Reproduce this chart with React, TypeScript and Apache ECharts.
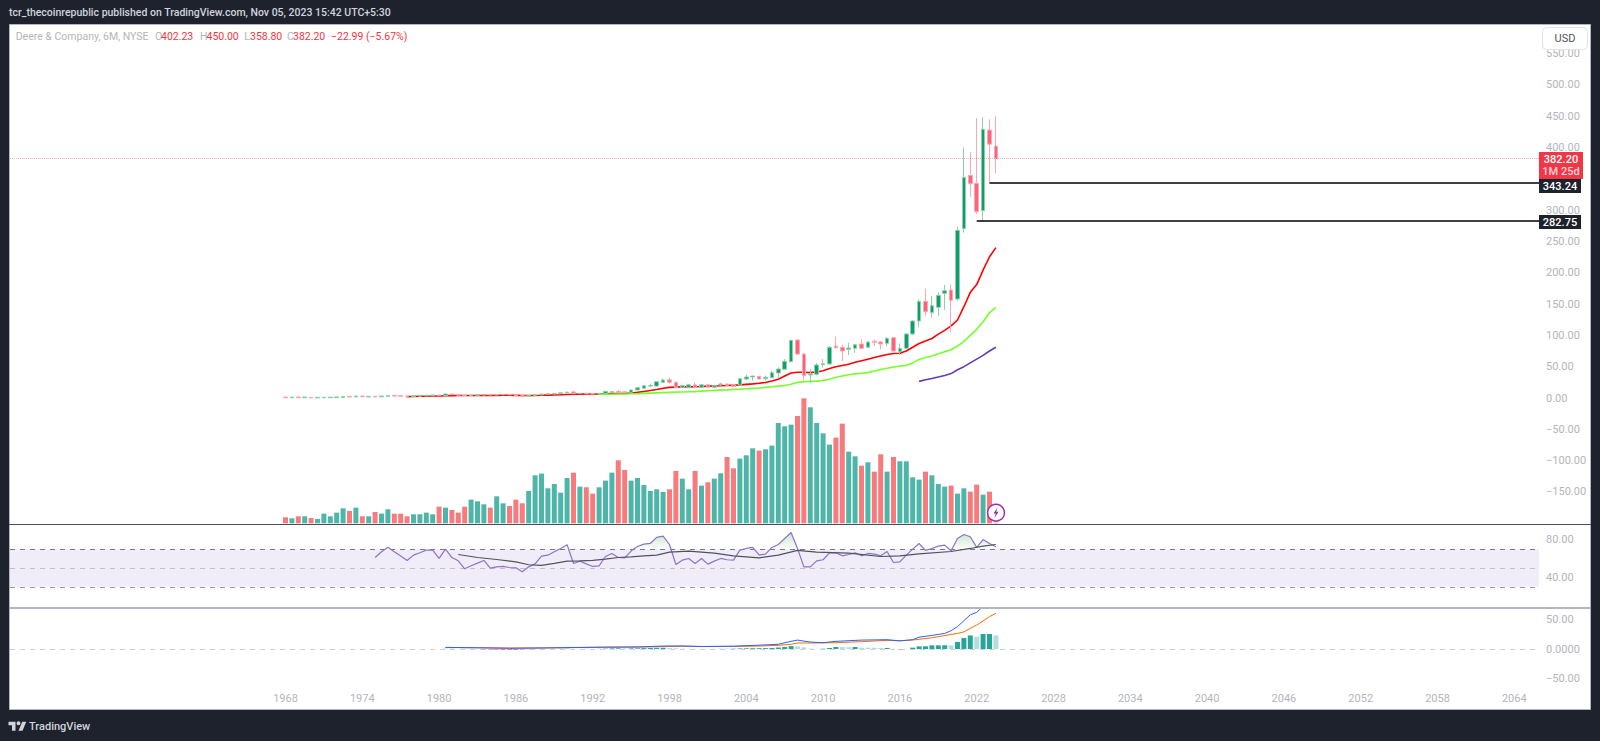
import React, { useEffect, useRef } from "react";
import * as echarts from "echarts";

const firstYear = 1968;
const barYears = 0.5;
const yearOf = (i: number) => firstYear + i * barYears;

// [open, close, low, high] for each six-month bar, 1968 H1 onwards
const candles: number[][] = [
  [1.6,0.4,0.2,1.7],[0.3,1.5,0.2,1.6],[1.7,0.5,0.4,1.8],[0.4,1.6,0.3,1.7],[1,0.1,0.05,1.1],[0.1,1,0.05,1.1],[0.3,1.3,0.2,1.4],[0.4,1.4,0.3,1.5],
  [0.5,1.7,0.4,1.8],[0.9,2.2,0.8,2.3],[2.8,1.7,1.5,3.4],[1.7,3,1.6,3.1],[3.1,2,1.9,3.2],[1.6,2.6,1.5,2.8],[2.7,1.7,1.6,2.9],[1.9,3.3,1.8,3.5],
  [2.7,4.1,2.6,4.3],[4.2,3.1,3,4.6],[3.6,2.7,2.5,3.8],[3.3,2.2,2,3.5],[2.1,3.4,2,3.6],[2.8,4,2.7,4.2],[3.3,4.4,3.2,4.6],[3.7,4.8,3.5,5],
  [4.8,3.9,3.7,5.2],[4,6.4,3.8,7],[6.4,5.4,5,7.2],[5.4,4.5,4.2,5.6],[4.6,4,3.8,4.7],[4,4.6,3.8,5],[4.4,5,4.1,5.2],[4.7,5.4,4.5,5.9],
  [5.3,5,4.8,6.2],[5,5.2,4.7,5.4],[5.2,5.5,5,5.7],[5.5,5.2,5,5.7],[5.2,3.6,3.4,5.3],[3.6,2.8,2.6,3.7],[2.8,3.8,2.6,3.9],[3.8,5.2,3.7,5.3],
  [5,6.3,4.9,6.6],[6,6.6,5.8,7],[6.5,7.3,6.3,7.6],[7.3,8.2,7.1,8.6],[8,9.2,7.8,10.5],[9.7,7,6.8,12],[7,7.6,6.8,8],[7.6,7.2,7,7.8],
  [7.2,6.8,6.6,7.4],[6.8,7.4,6.6,7.6],[7.4,10.6,7.2,11],[8.7,10.4,8.5,11],[10.6,9,8.8,13],[10,9,8.8,11],[9,12.8,8.9,13],[12.8,16.4,12.6,16.8],
  [15.5,19.7,15.2,20.2],[19,19.8,17,23],[19,26,18.5,26.5],[25,28.7,24.5,31],[29,25,23,33],[25,17,16,26],[17,20,16.5,21],[17,21,16.5,22],
  [21,17,15,25],[17,21,16,22.5],[21.2,17,16,22],[17,19.6,15.5,21],[21,22.3,19.5,24.5],[22.3,20.3,19,23.4],[21.2,18,17,22],[20.7,30.8,20,31.5],
  [30.3,33.5,28.7,37],[33.5,35.1,27.6,35.5],[34.6,30.3,29.8,35],[30.8,33,27.6,35.8],[32.4,40.4,32,43.6],[39.9,46.3,33.1,49],[45.8,58.6,44.7,62],[58,92,57,93],
  [92.6,70.2,68.6,93.6],[70.2,35.6,27.6,72],[36.7,38.3,23.6,46.2],[37.8,52.7,36,55.9],[53.2,54.7,48.4,62],[54.3,80.9,53.2,83],[83,80.3,78,97.9],[80.9,75,59.1,85.1],
  [77.7,79.8,68.6,88.3],[79.3,85,72.2,86.2],[86.2,79.3,78,93.6],[80.9,89.4,80.9,90.5],[90.5,88.9,83,93.6],[89.4,86.2,77.7,91],[87.2,95.2,83,97.4],[96.3,75,73.9,96.3],
  [73.9,79.3,68.6,87.2],[79.3,102.2,77.7,103.8],[102.2,122.9,101,124.5],[122.9,154.3,112.8,157.5],[154.3,137.8,130.9,174.5],[136.2,147.4,128.2,162.8],[144.7,163.9,131,169],[167,171.3,140.5,180.4],
  [172.4,155.9,105.8,181.4],[158,267.6,155.4,273.5],[270.3,352.2,263.9,400],[355.4,342,321,392.7],[342.7,297.4,294,447],[299,428.9,282.75,448],[427.8,405.19,343.24,444.8],[402.23,382.2,358.8,450],
];

const volumes: number[] = [
  18,15,21,21,16,13,29,21,32,45,37,47,21,21,34,29,42,29,29,21,27,27,32,27,50,47,40,32,50,71,66,57,47,81,60,52,71,60,97,144,
  149,105,118,92,136,152,110,108,89,108,128,152,189,160,128,136,115,97,102,94,102,157,134,102,157,113,123,134,150,199,165,194,204,225,218,222,233,301,291,296,
  322,375,348,301,270,236,257,299,215,201,173,183,155,207,155,199,186,186,138,131,155,144,118,110,113,89,105,95,116,86,95,2,
];

const emaRedStart = 19;
const emaRed: number[] = [
  2.2,2.5,2.7,2.9,3.1,3.3,3.6,3.8,3.9,3.9,3.9,4,4.1,4.1,4.2,4.3,4.3,4.2,4,4,4.1,4.3,4.6,4.9,5.2,5.7,6,
  6.2,6.3,6.4,6.5,6.8,7,7.2,7.4,8,9,10.5,12,13.5,15.5,17,17.5,17.7,17.8,18,18.3,19,19.2,19.5,20,20.5,21,21.8,22.5,23.5,24.8,27,30,35,40,41,41,40.5,41.5,43.5,
  47,50,52,54,57,59.5,62,64.5,67,69.5,71,71.5,75,81,87,91,95,102,108,115,124.5,145.7,168.7,181,204,225.5,240,
];
const emaLimeStart = 49;
const emaLime: number[] = [
  5.8,6,6.1,6.3,6.5,6.7,7,7.4,7.8,8.2,8.6,9,9.3,9.6,9.9,10.2,11,11.5,12,12.5,13,13.8,14.2,14.8,15.4,16,17,18,19,20,22,25,26,26.5,27,28,30,33,35,37,38.5,39.5,
  40.5,43,45.5,47.6,49.5,51,52,56,61.6,64.5,67,70.5,74,77,83,90,100,109.6,121.8,136,144.7,
];
const emaPurpleStart = 99;
const emaPurple: number[] = [26.5,29,31,33.5,36,39,45,50,56,62,68,75,81];

const levels: number[][] = [[110, 343.24], [108, 282.75]];
const lastPrice = 382.2;

const rsiStart = 14;
const rsi: number[] = [
  61.1,67.2,72.1,67.2,62.6,58,63.6,66.1,68.9,68.9,60.1,70,61.1,57.6,49.1,52.3,55.1,58,49.8,51.2,51.6,50.5,50.2,45.9,51.2,54.4,62.6,63.6,67.2,70.7,74.6,54.8,57.3,54.4,51.6,52.3,62.2,65.4,61.1,60.8,67.9,72.8,75.3,76,82.4,83.8,74.9,53.7,
  58.3,60.1,54.8,60.1,54.1,57.3,60.1,58.7,58.3,68.9,70.7,71.8,64,64.7,71.8,74.9,81.3,87.7,70.7,51.2,51.2,57.6,58.7,66.1,66.1,62.9,64.3,66.1,62.9,65.4,64.7,62.9,67.5,55.8,56.5,63.6,70,76,68.6,70.7,73.2,74.2,68.2,81.3,85.5,83.1,71.8,80.2,76,72.5,
];
const rsiMa: number[][] = [
  [27,64.3],[30,61.1],[33,59],[36,56.5],[38,53.4],[40,52.7],[42,54.8],[44,57.3],[46,57.6],[48,58],[50,59.4],[52,61.1],[54,61.8],[56,62.9],[58,63.6],[60,66.8],[63,67.9],
  [67,65.7],[70,62.9],[74,60.8],[77,63.6],[80,68.6],[83,66.8],[88,65.7],[93,62.2],[96,62.9],[99,65],[104,67.5],[107,70.7],[109,73.2],[111,74.9],
];

const macdHistStart = 25;
const macdHist: number[] = [
  0.3,0.3,0.2,0.2,0.1,-0.1,-0.4,-0.7,-1,-1.1,-1.2,-1.3,-1.2,-1,-0.7,-0.4,-0.2,0.1,0.3,0.5,0.3,0.2,0.2,0.1,0.3,0.7,1,1.2,1,1,1.2,1.5,1.7,1.9,2,1.7,1.3,
  0.5,0.3,0.2,0.1,-0.1,0.1,0.2,0.3,0.5,1,1.2,1.3,1.4,1.5,1.8,2.5,3.5,5,4.5,2.8,0.6,0.2,0.5,1.7,3.5,3.4,3,3.4,2.3,2.2,2.1,1.7,1.8,0.2,-0.6,-0.3,2.3,4.5,4.6,6.2,6.2,6.3,6.2,12,18.6,23,21,25.4,25.5,23,
];
const macdLine: number[][] = [
  [25,2.8],[30,2],[35,1.2],[40,1.6],[45,2.6],[50,3.2],[55,3.6],[59,5],[62,5.2],[65,4.2],[70,4.8],[74,6.5],[77,8],[79,13],[80,15.1],[82,11.8],[84,10.7],[86,13],[90,15.1],[94,15.8],[96,13.8],[98,15.8],[99,20],[101,23],[103,26.4],[104,31],[105,38],[106,48],[107,58],[108,62],[109,72.5],[110,80],[111,83.5],
];
const macdSignal: number[][] = [
  [25,2.6],[30,2.2],[35,1.7],[40,1.9],[45,2.4],[50,3],[55,3.2],[59,4],[62,4.7],[65,4.3],[70,4.3],[74,5],[77,6.2],[79,8],[80,10.2],[83,10.2],[86,10.7],[90,12.4],[94,14.6],[96,14],[98,15.2],[101,19],[104,24.7],[105,26.4],[106,29],[107,35],[108,40.7],[109,47.5],[110,54.8],[111,60.5],
];

const yearTicks = [1968,1974,1980,1986,1992,1998,2004,2010,2016,2022,2028,2034,2040,2046,2052,2058,2064];
const legendPieces: [string, number, string, number][] = [
  ["Deere & Company, 6M, NYSE", 15.7, "#b2b5be", 10.5],
  ["O", 155, "#b2b5be", 10.5], ["402.23", 161, "#f23645", 10.5],
  ["H", 200, "#b2b5be", 10.5], ["450.00", 206.5, "#f23645", 10.5],
  ["L", 244.3, "#b2b5be", 10.5], ["358.80", 250, "#f23645", 10.5],
  ["C", 287, "#b2b5be", 10.5], ["382.20", 293, "#f23645", 10.5],
  ["\u221222.99 (\u22125.67%)", 331, "#f23645", 10.5],
];

const FONT = "Roboto, sans-serif";
const X_MIN = 1946.477;
const X_MAX = 2065.93;
const pane = { left: 10, width: 1529 };

const fmt = (v: number) => (v < 0 ? "\u2212" : "") + Math.abs(v).toFixed(2);
const fromIndex = (arr: number[], start: number) => arr.map((v, k) => [yearOf(start + k), v]);
const fromPairs = (arr: number[][]) => arr.map(([i, v]) => [yearOf(i), v]);

const lineSeries = (name: string, data: number[][], color: string, width: number, axis: number, extra: any = {}) => ({
  type: "line", name, data, xAxisIndex: axis, yAxisIndex: axis === 0 ? 0 : axis + 1,
  showSymbol: false, symbol: "none", silent: true,
  lineStyle: { color, width }, itemStyle: { color }, z: 5, ...extra,
});

const histColor = (h: number, prev: number) =>
  h >= 0 ? (h >= prev ? "#26a69a" : "#b2dfdb") : (h < prev ? "#ff5252" : "#ffcdd2");

function buildOption() {
  const axisLabel = { color: "#b2b5be", fontFamily: FONT, fontSize: 11, margin: 7, showMinLabel: false, showMaxLabel: false };
  const hiddenParts = { axisLine: { show: false }, axisTick: { show: false }, splitLine: { show: false } };
  const xBase = { type: "value", min: X_MIN, max: X_MAX, ...hiddenParts };

  return {
    animation: false,
    backgroundColor: "#1e222d",
    grid: [
      { ...pane, top: 22.1, height: 501.2 },
      { ...pane, top: 502, height: 113.1 },
      { ...pane, top: 608, height: 100 },
    ],
    xAxis: [
      { ...xBase, gridIndex: 0, axisLabel: { show: false } },
      { ...xBase, gridIndex: 1, axisLabel: { show: false } },
      {
        ...xBase, gridIndex: 2,
        axisLabel: {
          inside: true, margin: 4, color: "#b2b5be", fontFamily: FONT, fontSize: 11,
          customValues: yearTicks, formatter: (v: number) => String(v), hideOverlap: false,
        },
      },
    ],
    yAxis: [
      // the 350.00 label sits behind the price tags in the reference, so it is left blank
      { type: "value", gridIndex: 0, position: "right", min: -200, max: 600, interval: 50, ...hiddenParts, axisLabel: { ...axisLabel, formatter: (v: number) => (v === 350 ? "" : fmt(v)) } },
      { type: "value", gridIndex: 0, position: "right", min: 0, max: 1503.6, show: false, ...hiddenParts },
      { type: "value", gridIndex: 1, position: "right", min: 0, max: 120, interval: 40, ...hiddenParts, axisLabel: { ...axisLabel, formatter: fmt } },
      { type: "value", gridIndex: 2, position: "right", min: -100, max: 69.5, interval: 50, ...hiddenParts, axisLabel: { ...axisLabel, formatter: (v: number) => (v === 0 ? "0.0000" : fmt(v)) } },
    ],
    series: [
      {
        type: "bar", name: "Volume", xAxisIndex: 0, yAxisIndex: 1, barWidth: 5, silent: true, z: 1,
        data: volumes.map((v, i) => ({
          value: [yearOf(i), v],
          itemStyle: {
            color: candles[i][1] >= candles[i][0] ? "#4db6a9" : "#f77a7d",
          },
        })),
      },
      lineSeries("EMA 20", fromIndex(emaRed, emaRedStart), "#ff0000", 1.6, 0, {
        z: 3,
        markLine: {
          silent: true, symbol: "none", animation: false, label: { show: false },
          data: [
            { yAxis: lastPrice, lineStyle: { color: "rgba(242,54,69,0.4)", type: "dotted", width: 1 } },
            ...levels.map(([i, p]) => [
              { coord: [yearOf(i), p], lineStyle: { color: "#000000", type: "solid", width: 1.6 } },
              { coord: [X_MAX, p] },
            ]),
          ],
        },
      }),
      lineSeries("EMA 50", fromIndex(emaLime, emaLimeStart), "#76ff2a", 1.6, 0, { z: 3 }),
      lineSeries("EMA 100", fromIndex(emaPurple, emaPurpleStart), "#673ab7", 1.6, 0, { z: 3 }),
      {
        type: "candlestick", name: "Deere & Company", xAxisIndex: 0, yAxisIndex: 0, barWidth: 4, silent: true, z: 4,
        data: candles.map(([o, c, l, h], i) => [yearOf(i), o, c, l, h]),
        itemStyle: { color: "#0e9c72", color0: "#fb6478", borderColor: "#8fd0a4", borderColor0: "#fba8b2", borderWidth: 1 },
      },
      lineSeries("RSI zone", fromIndex(rsi.map((v) => Math.max(v, 70)), rsiStart), "transparent", 0, 1, {
        lineStyle: { opacity: 0, width: 0 },
        z: 3,
        areaStyle: {
          origin: 70,
          color: new echarts.graphic.LinearGradient(0, 0, 0, 1, [
            { offset: 0, color: "rgba(76,175,80,0.45)" },
            { offset: 1, color: "rgba(76,175,80,0.02)" },
          ]),
        },
      }),
      lineSeries("RSI", fromIndex(rsi, rsiStart), "#8e72cc", 1.2, 1, {
        markArea: { silent: true, itemStyle: { color: "rgba(126,87,194,0.11)" }, data: [[{ yAxis: 70 }, { yAxis: 30 }]] },
        markLine: {
          silent: true, symbol: "none", animation: false, label: { show: false },
          data: [
            { yAxis: 70, lineStyle: { color: "#787b86", type: [5, 5], width: 1 } },
            { yAxis: 50, lineStyle: { color: "rgba(120,123,134,0.4)", type: [5, 5], width: 1 } },
            { yAxis: 30, lineStyle: { color: "#9598a1", type: [5, 5], width: 1 } },
          ],
        },
      }),
      lineSeries("RSI MA", fromPairs(rsiMa), "#50535e", 1.2, 1),
      {
        type: "bar", name: "MACD histogram", xAxisIndex: 2, yAxisIndex: 3, barWidth: 5, silent: true, z: 3,
        data: macdHist.map((h, k) => ({
          value: [yearOf(macdHistStart + k), h],
          itemStyle: { color: histColor(h, k ? macdHist[k - 1] : 0) },
        })),
        markLine: {
          silent: true, symbol: "none", animation: false, label: { show: false },
          data: [{ yAxis: 0, lineStyle: { color: "rgba(120,123,134,0.35)", type: [5, 5], width: 1 } }],
        },
      },
      lineSeries("Signal", fromPairs(macdSignal), "#ff6d00", 1, 2),
      lineSeries("MACD", fromPairs(macdLine), "#2962ff", 1, 2),
    ],
    graphic: {
      elements: [
        { type: "rect", z: -10, silent: true, shape: { x: 9.5, y: 24.5, width: 1581, height: 685 }, style: { fill: "#ffffff", stroke: "#b2b5be", lineWidth: 1 } },
        { type: "line", z: 8, silent: true, shape: { x1: 9, y1: 524.5, x2: 1591, y2: 524.5 }, style: { stroke: "#4a4e59", lineWidth: 1 } },
        { type: "line", z: 8, silent: true, shape: { x1: 9, y1: 608, x2: 1591, y2: 608 }, style: { stroke: "#b2b5be", lineWidth: 2 } },
        { type: "text", z: 20, silent: true, x: 9, y: 12.5, style: { text: "tcr_thecoinrepublic published on TradingView.com, Nov 05, 2023 15:42 UTC+5:30", fill: "#d1d4dc", font: `500 10.5px ${FONT}`, verticalAlign: "middle" } },
        ...legendPieces.map(([text, x, fill, size]) => ({
          type: "text", z: 20, silent: true, x, y: 36, style: { text, fill, font: `${size}px ${FONT}`, verticalAlign: "middle" },
        })),
        // USD box
        { type: "rect", z: 20, silent: true, shape: { x: 1542.5, y: 27.5, width: 45, height: 22, r: 4 }, style: { fill: "#ffffff", stroke: "#e0e3eb", lineWidth: 1 } },
        { type: "text", z: 21, silent: true, x: 1565, y: 38.5, style: { text: "USD", fill: "#50535e", font: `11px ${FONT}`, align: "center", verticalAlign: "middle" } },
        // last price tag
        { type: "rect", z: 20, silent: true, shape: { x: 1539, y: 152, width: 44, height: 27 }, style: { fill: "#f23645" } },
        { type: "text", z: 21, silent: true, x: 1561, y: 159.5, style: { text: "382.20", fill: "#ffffff", font: `500 11px ${FONT}`, align: "center", verticalAlign: "middle" } },
        { type: "text", z: 21, silent: true, x: 1561, y: 171.5, style: { text: "1M 25d", fill: "#ffd5d9", font: `500 11px ${FONT}`, align: "center", verticalAlign: "middle" } },
        // level tags
        { type: "rect", z: 20, silent: true, shape: { x: 1539, y: 179, width: 42, height: 14 }, style: { fill: "#1e222d" } },
        { type: "text", z: 21, silent: true, x: 1560, y: 186, style: { text: "343.24", fill: "#ffffff", font: `500 11px ${FONT}`, align: "center", verticalAlign: "middle" } },
        { type: "rect", z: 20, silent: true, shape: { x: 1539, y: 215, width: 42, height: 14 }, style: { fill: "#1e222d" } },
        { type: "text", z: 21, silent: true, x: 1560, y: 222, style: { text: "282.75", fill: "#ffffff", font: `500 11px ${FONT}`, align: "center", verticalAlign: "middle" } },
        // earnings-style icon
        { type: "circle", z: 20, silent: true, shape: { cx: 996, cy: 512.7, r: 8.4 }, style: { fill: "#ffffff", stroke: "#9c27b0", lineWidth: 1.4 } },
        { type: "polygon", z: 21, silent: true, shape: { points: [[997.5, 507.5], [993.5, 513.5], [995.8, 513.5], [994.5, 518], [998.5, 511.8], [996.2, 511.8]] }, style: { fill: "#9c27b0" } },
        // footer
        { type: "tvLogo", z: 20, silent: true, x: 8.5, y: 719.7, scaleX: 0.5, scaleY: 0.5, style: { fill: "#d1d4dc" } },
        { type: "text", z: 20, silent: true, x: 29, y: 726, style: { text: "TradingView", fill: "#d1d4dc", font: `500 11px ${FONT}`, verticalAlign: "middle" } },
      ],
    },
  };
}

echarts.graphic.registerShape(
  "tvLogo",
  echarts.graphic.extendPath("M14 22H7V11H0V4h14v18zM28 22h-8l7.5-18h8L28 22zM24 7a4 4 0 1 1-8 0a4 4 0 1 1 8 0z", {})
);

export default function App() {
  const ref = useRef<HTMLDivElement>(null);
  useEffect(() => {
    const chart = echarts.init(ref.current!, undefined, { renderer: "svg" });
    chart.setOption(buildOption() as any);
    return () => chart.dispose();
  }, []);
  return <div ref={ref} style={{ position: "fixed", left: 0, top: 0, width: 1600, height: 741 }} />;
}
